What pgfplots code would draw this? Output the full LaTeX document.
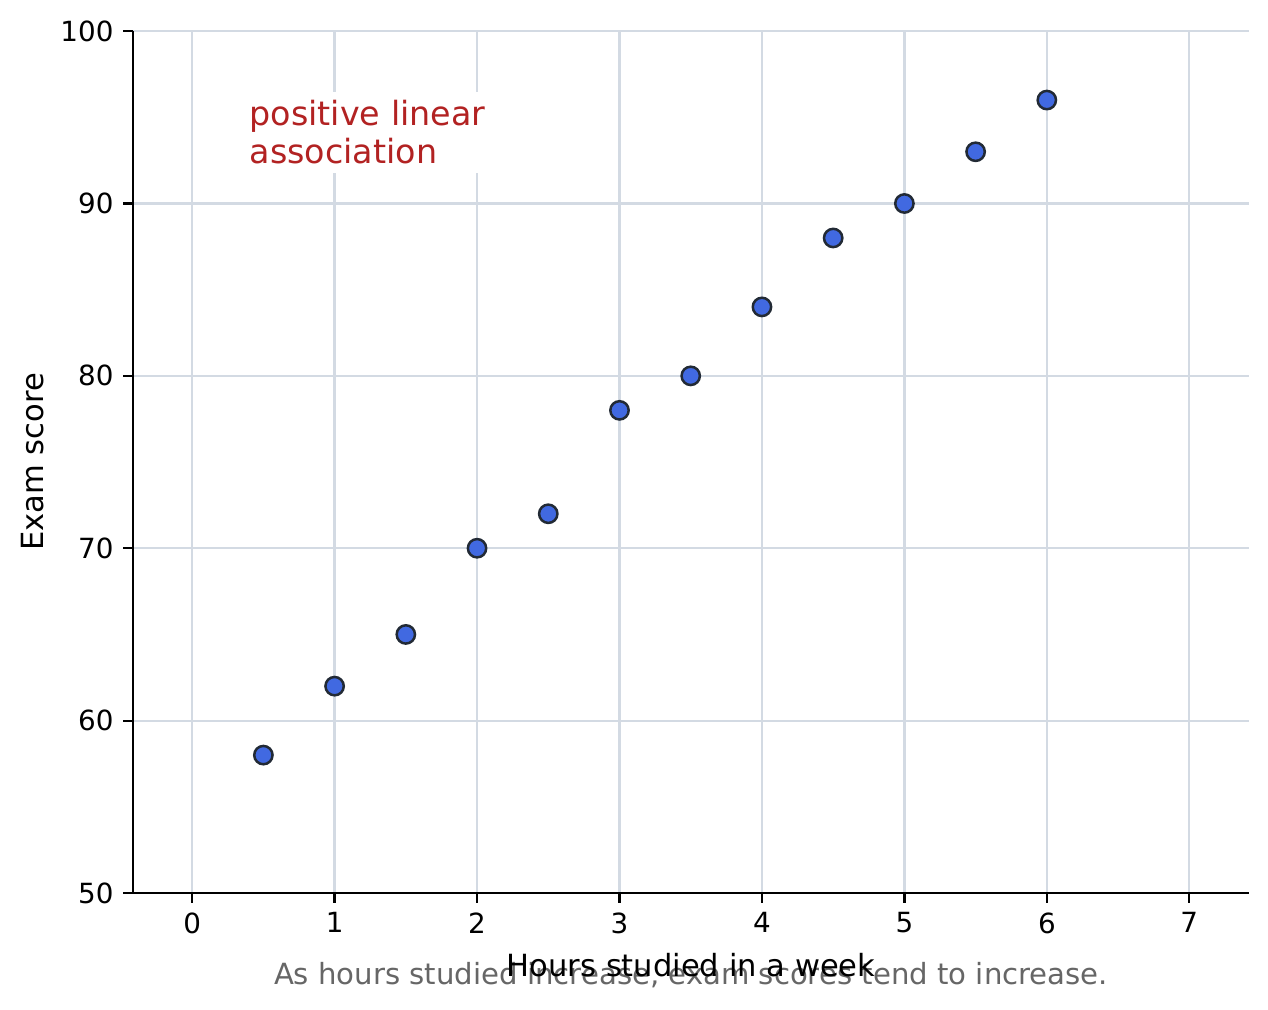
\documentclass[border=0pt]{standalone}
\usepackage{pgfplots}
\pgfplotsset{compat=1.18}
\usepackage{fontspec}
\setmainfont{DejaVu Sans}
\definecolor{gridc}{HTML}{D3DAE3}
\definecolor{dotfill}{HTML}{4169E1}
\definecolor{dotedge}{HTML}{222A35}
\definecolor{annot}{HTML}{B22222}
\definecolor{capc}{HTML}{666666}
\begin{document}
\begin{tikzpicture}
\begin{axis}[
  scale only axis,
  width=401.8pt, height=310.3pt,
  xmin=-0.415, xmax=7.42, ymin=50, ymax=100,
  axis x line*=bottom, axis y line*=left,
  axis line style={line width=0.8pt, -},
  xtick={0,1,2,3,4,5,6,7}, ytick={50,60,70,80,90,100},
  grid=major,
  major grid style={gridc, line width=0.8pt},
  tick align=outside, major tick length=3.5pt,
  tick style={black, line width=0.8pt},
  tick label style={font=\fontsize{10}{12}\selectfont},
  /pgf/number format/assume math mode=true,
  clip=false,
  xlabel={Hours studied in a week},
  ylabel={Exam score},
  label style={font=\fontsize{11}{13}\selectfont},
  x label style={at={(axis description cs:0.5,0)}, anchor=center, yshift=-25.9pt},
  y label style={at={([xshift=-36pt]axis description cs:0,0.5)}, anchor=center},
]
\addplot[only marks, mark=*, mark size=3.3pt,
  mark options={fill=dotfill, draw=dotedge, line width=0.9pt}]
  coordinates {
    (0.5,58) (1,62) (1.5,65) (2,70) (2.5,72) (3,78)
    (3.5,80) (4,84) (4.5,88) (5,90) (5.5,93) (6,96)
  };
\node[anchor=north west, fill=white, text=annot, align=left,
  font=\fontsize{12}{13.7}\selectfont, inner sep=3pt, xshift=-3pt]
  at (axis cs:0.4,96.5) {positive linear\\association};
\node[text=capc, font=\fontsize{10.5}{12.6}\selectfont, anchor=center, yshift=-29.5pt]
  at (axis description cs:0.5,0) {As hours studied increase, exam scores tend to increase.};
\end{axis}
\pgfresetboundingbox
\path ([shift={(-47.9pt,-42.1pt)}]current axis.south west) rectangle ([shift={(6.8pt,11.2pt)}]current axis.north east);
\end{tikzpicture}
\end{document}
